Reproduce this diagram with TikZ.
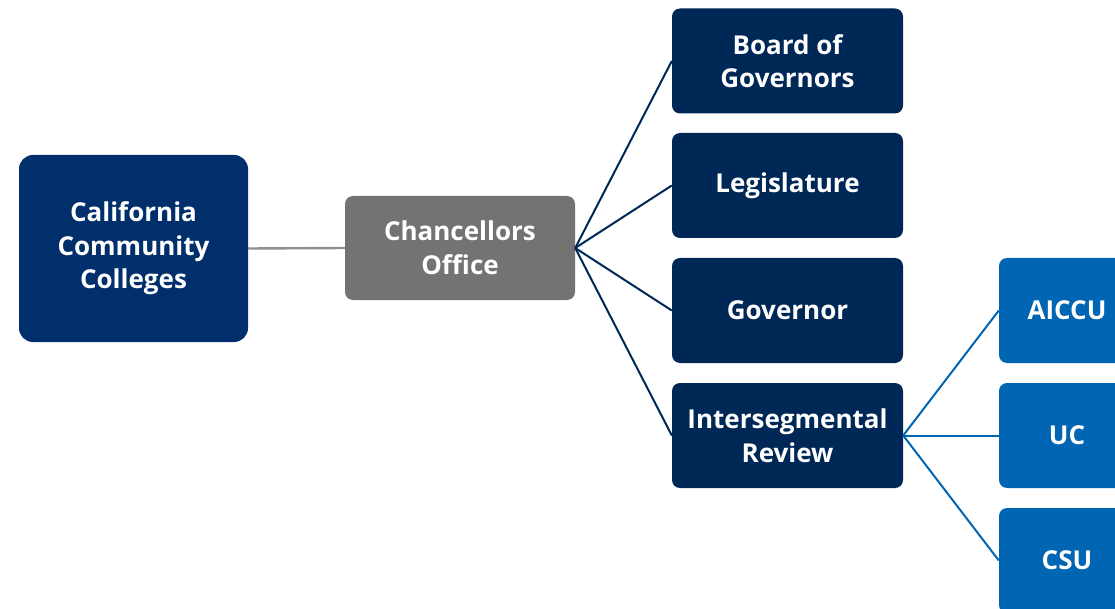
\documentclass[tikz,border=0pt]{standalone}
\usepackage{fontspec}
\setmainfont{Open Sans}
\definecolor{ccnavy}{RGB}{0,47,108}
\definecolor{darknavy}{RGB}{0,40,86}
\definecolor{cogray}{RGB}{115,115,115}
\definecolor{segblue}{RGB}{0,102,180}
\begin{document}
\begin{tikzpicture}[x=1pt, y=-1pt,
    box/.style={rounded corners=8pt, text=white, align=center, inner sep=0pt,
        font=\bfseries\fontsize{26}{33.5}\selectfont,
        minimum width=231pt, minimum height=105pt}]
        \useasboundingbox (0,0) rectangle (1115,609);
        \node[box, fill=ccnavy, rounded corners=14pt, minimum width=229pt,
            minimum height=187pt] (ccc) at (133.5,248.5)
            {California\\Community\\Colleges};
        \node[box, fill=cogray, minimum width=230pt, minimum height=104pt]
            (office) at (460,248) {Chancellors\\Office};
        \foreach \name/\y/\txt in {board/61/{Board of\\Governors},
            legis/185.5/Legislature, gov/310.5/Governor,
            review/435.5/{Intersegmental\\Review}}
        {
            \node[box, fill=darknavy] (\name) at (787.5,\y) {\txt};
            \draw[darknavy, line width=2pt] (office.east) -- (\name.west);
        }
        \foreach \name/\y/\txt in {aiccu/310.5/AICCU, uc/435.5/UC, csu/560.5/CSU}
        {
            \node[box, fill=segblue, minimum width=136pt] (\name) at (1067,\y) {\txt};
            \draw[segblue, line width=2pt] (review.east) -- (\name.west);
        }
        \draw[cogray!80, line width=2.4pt] (ccc.east) -- (office.west);
    \end{tikzpicture}
\end{document}
